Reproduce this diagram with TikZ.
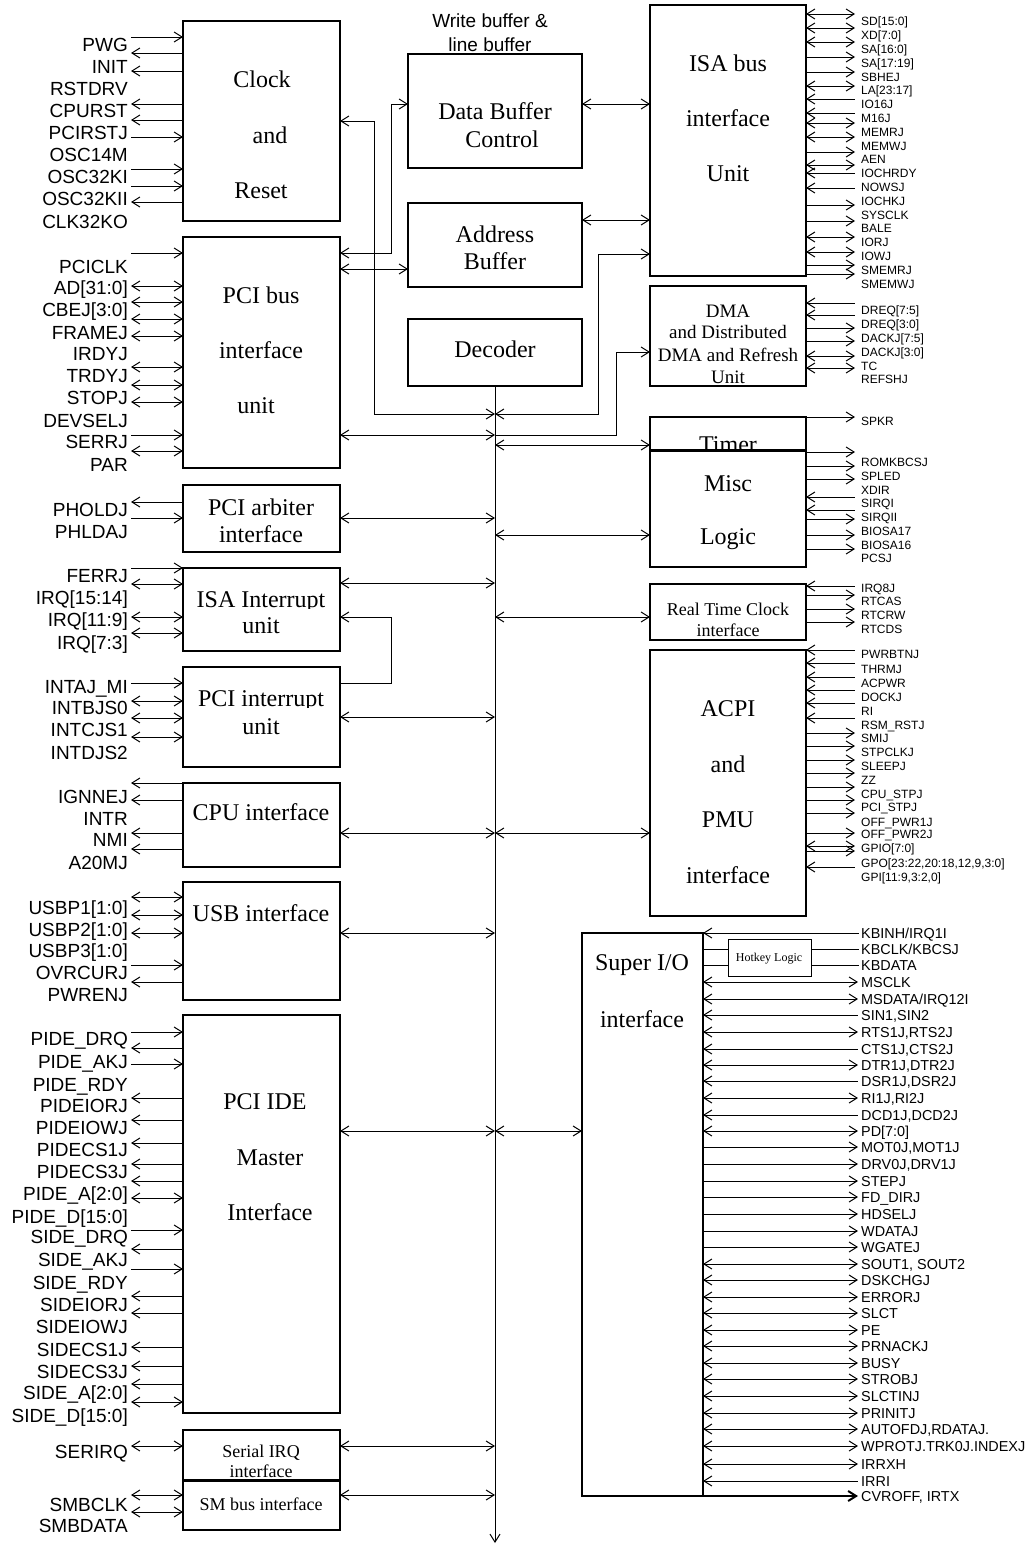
\documentclass[tikz,border=0pt]{standalone}
\usepackage{fontspec}
\setmainfont{Liberation Serif}
\newfontfamily\arialf{Liberation Sans}
\newfontfamily\timesf{Liberation Serif}
\usetikzlibrary{arrows.meta}
\newcommand\sigln[3]{\ifcase#1\relax\draw[sig](#2)--(#3);\or\draw[sig,->](#2)--(#3);\or\draw[sig,<-](#2)--(#3);\or\draw[sig,<->](#2)--(#3);\fi}
\tikzset{
 blk/.style={draw, line width=1.3pt, anchor=north west, inner sep=0pt, outer sep=0pt, fill=white},
 sig/.style={line width=1pt, >={Straight Barb[length=8pt,width=10pt]}},
 llab/.style={anchor=east, inner sep=0pt, font=\arialf\fontsize{19}{19}\selectfont, text height=13.6pt, text depth=0pt},
 clab/.style={inner sep=0pt, font=\arialf\fontsize{19}{19}\selectfont, text height=13.6pt, text depth=0pt},
 rlab/.style={anchor=west, inner sep=0pt, font=\arialf\fontsize{12}{12}\selectfont, text height=8.6pt, text depth=0pt},
 slab/.style={anchor=west, inner sep=0pt, font=\arialf\fontsize{14.4}{14.4}\selectfont, text height=10.3pt, text depth=0pt},
 ttl/.style={inner sep=0pt, font=\timesf\fontsize{24}{24}\selectfont, text height=15.9pt, text depth=0pt},
 ttm/.style={inner sep=0pt, font=\timesf\fontsize{19}{19}\selectfont, text height=12.6pt, text depth=0pt},
 tts/.style={inner sep=0pt, font=\timesf\fontsize{18}{18}\selectfont, text height=11.9pt, text depth=0pt},
 tty/.style={inner sep=0pt, font=\timesf\fontsize{12}{12}\selectfont, text height=8pt, text depth=0pt},
}
\begin{document}
\begin{tikzpicture}[x=1pt,y=-1pt]
\fill[white] (0,0) rectangle (1029,1545);
\useasboundingbox (0,0) rectangle (1029,1545);
% ---------------- blocks ----------------
\node[blk, minimum width=157pt, minimum height=200pt] (clk) at (183,21) {};
\node[blk, minimum width=157pt, minimum height=231pt] (pci) at (183,237) {};
\node[blk, minimum width=157pt, minimum height=67pt] (arb) at (183,485) {};
\node[blk, minimum width=157pt, minimum height=83pt] (isai) at (183,568) {};
\node[blk, minimum width=157pt, minimum height=100pt] (pcii) at (183,667) {};
\node[blk, minimum width=157pt, minimum height=84pt] (cpu) at (183,783) {};
\node[blk, minimum width=157pt, minimum height=118pt] (usb) at (183,882) {};
\node[blk, minimum width=157pt, minimum height=398pt] (ide) at (183,1015) {};
\node[blk, minimum width=157pt, minimum height=50pt] (sirq) at (183,1430) {};
\node[blk, minimum width=157pt, minimum height=49pt] (smb) at (183,1481) {};
\node[blk, minimum width=174pt, minimum height=114pt] (dbc) at (408,54) {};
\node[blk, minimum width=174pt, minimum height=84pt] (ab) at (408,203) {};
\node[blk, minimum width=174pt, minimum height=67pt] (dec) at (408,319) {};
\node[blk, minimum width=156pt, minimum height=271pt] (isa) at (650,5) {};
\node[blk, minimum width=156pt, minimum height=100pt] (dma) at (650,286) {};
\node[blk, minimum width=156pt, minimum height=33pt] (tmr) at (650,417) {};
\node[ttl] (tTimer) at (728,445) {Timer};
\node[blk, minimum width=156pt, minimum height=116pt] (misc) at (650,451) {};
\node[blk, minimum width=156pt, minimum height=56pt] (rtc) at (650,584) {};
\node[blk, minimum width=156pt, minimum height=266pt] (acpi) at (650,650) {};
\node[blk, minimum width=121pt, minimum height=563pt] (sio) at (582,933) {};
\node[blk, minimum width=83pt, minimum height=37pt, line width=1pt] (hk) at (728,939) {};
% ---------------- block texts ----------------
\node[ttl] (t1) at (262,80) {Clock};
\node[ttl] (t2) at (270,136) {and};
\node[ttl] (t3) at (261,191) {Reset};
\node[ttl] (t4) at (261,296) {PCI bus};
\node[ttl] (t5) at (261,351) {interface};
\node[ttl] (t6) at (256,406) {unit};
\node[ttl] (t7) at (261,508) {PCI arbiter};
\node[ttl] (t8) at (261,535) {interface};
\begin{scope}
\clip (183,560) rectangle (340,608.5);
\node[ttl] (t9) at (261,600) {ISA Interrupt};
\end{scope}
\node[ttl] (t10) at (261,626) {unit};
\begin{scope}
\clip (183,660) rectangle (340,707.5);
\node[ttl] (t11) at (261,699) {PCI interrupt};
\end{scope}
\node[ttl] (t12) at (261,727) {unit};
\node[ttl] (t13) at (261,813) {CPU interface};
\node[ttl] (t14) at (261,914) {USB interface};
\node[ttl] (t15) at (265,1102) {PCI IDE};
\node[ttl] (t16) at (270,1158) {Master};
\node[ttl] (t17) at (270,1213) {Interface};
\node[tts] (t18) at (261,1452) {Serial IRQ};
\node[tts] (t19) at (261,1472) {interface};
\node[tts] (t20) at (261,1505) {SM bus interface};
\node[clab] (t21) at (490,21) {Write buffer \&};
\node[clab] (t22) at (490,45) {line buffer};
\node[ttl] (t23) at (495,112) {Data Buffer};
\node[ttl] (t24) at (502,140) {Control};
\node[ttl] (t25) at (495,235) {Address};
\node[ttl] (t26) at (495,262) {Buffer};
\node[ttl] (t27) at (495,350) {Decoder};
\node[ttl] (t28) at (728,64) {ISA bus};
\node[ttl] (t29) at (728,119) {interface};
\node[ttl] (t30) at (728,174) {Unit};
\node[ttm] (t31) at (728,311) {DMA};
\node[ttm] (t32) at (728,332) {and Distributed};
\node[ttm] (t33) at (728,355) {DMA and Refresh};
\node[ttm] (t34) at (728,377) {Unit};
\node[ttl] (t35) at (728,484) {Misc};
\node[ttl] (t36) at (728,537) {Logic};
\node[tts] (t37) at (728,610) {Real Time Clock};
\node[tts] (t38) at (728,631) {interface};
\node[ttl] (t39) at (728,709) {ACPI};
\node[ttl] (t40) at (728,765) {and};
\node[ttl] (t41) at (728,820) {PMU};
\node[ttl] (t42) at (728,876) {interface};
\node[ttl] (t43) at (642,963) {Super I/O};
\node[ttl] (t44) at (642,1020) {interface};
\node[tty] (t45) at (769,957) {Hotkey Logic};
% ---------------- internal bus and connectors ----------------
\coordinate (busend) at (495,1543);
\draw[sig,->] (dec.south) -- (busend);
\draw[sig,<->] (clk.east |- 0,121) -| (374,414) -- (dec.south |- 0,414);
\draw[sig,<->] (dec.south |- 0,414) -| (598,254) -- (isa.west |- 0,254);
\draw[sig,<->] (pci.east |- 0,253) -| (391,104) -- (dbc.west |- 0,104);
\draw[sig,<->] (pci.east |- 0,269) -- (ab.west |- 0,269);
\draw[sig,<->] (dbc.east |- 0,104) -- (isa.west |- 0,104);
\draw[sig,<->] (ab.east |- 0,220) -- (isa.west |- 0,220);
\draw[sig,<->] (pci.east |- 0,435) -- (dec.south |- 0,435);
\draw[sig,->] (dec.south |- 0,435) -| (616,352) -- (dma.west |- 0,352);
\draw[sig,<->] (dec.south |- 0,445) -- (tmr.west |- 0,445);
\draw[sig,<->] (arb.east |- 0,518) -- (dec.south |- 0,518);
\draw[sig,<->] (dec.south |- 0,535) -- (misc.west |- 0,535);
\draw[sig,<->] (isai.east |- 0,583) -- (dec.south |- 0,583);
\draw[sig,<->] (dec.south |- 0,617) -- (rtc.west |- 0,617);
\draw[sig,->] (pcii.east |- 0,683) -| (391,617) -- (isai.east |- 0,617);
\draw[sig,<->] (pcii.east |- 0,717) -- (dec.south |- 0,717);
\draw[sig,<->] (cpu.east |- 0,833) -- (dec.south |- 0,833);
\draw[sig,<->] (dec.south |- 0,833) -- (acpi.west |- 0,833);
\draw[sig,<->] (usb.east |- 0,933) -- (dec.south |- 0,933);
\draw[sig,<->] (ide.east |- 0,1131) -- (dec.south |- 0,1131);
\draw[sig,<->] (dec.south |- 0,1131) -- (sio.west |- 0,1131);
\draw[sig,<->] (sirq.east |- 0,1446) -- (dec.south |- 0,1446);
\draw[sig,<->] (smb.east |- 0,1495) -- (dec.south |- 0,1495);
% ---------------- left signals ----------------
\foreach \y/\k in {37/1,53/2,71/2,104/2,120/2,137/1,169/1,186/1,202/2}{\sigln{\k}{131,\y}{clk.west |- 0,\y}}
\foreach \y/\k in {253/1,286/3,302/3,319/3,336/3,367/3,385/3,402/3,435/1,451/3}{\sigln{\k}{131,\y}{pci.west |- 0,\y}}
\foreach \y/\k in {502/2,518/1}{\sigln{\k}{131,\y}{arb.west |- 0,\y}}
\foreach \y/\k in {568/1,584/3,617/3,633/3}{\sigln{\k}{131,\y}{isai.west |- 0,\y}}
\foreach \y/\k in {683/1,701/3,718/3,737/3}{\sigln{\k}{131,\y}{pcii.west |- 0,\y}}
\foreach \y/\k in {783/2,800/2,833/2,849/2}{\sigln{\k}{131,\y}{cpu.west |- 0,\y}}
\foreach \y/\k in {897/3,915/3,933/3,965/1,982/2}{\sigln{\k}{131,\y}{usb.west |- 0,\y}}
\foreach \y/\k in {1032/1,1048/2,1064/1,1098/2,1120/2,1143/2,1164/2,1181/2,1198/3,1230/1,1249/2,1269/1,1296/2,1313/2,1347/2,1366/2,1384/2,1402/3}{\sigln{\k}{131,\y}{ide.west |- 0,\y}}
\foreach \y/\k in {1446/3}{\sigln{\k}{131,\y}{sirq.west |- 0,\y}}
\foreach \y/\k in {1495/3,1512/3}{\sigln{\k}{131,\y}{smb.west |- 0,\y}}
\foreach \y/\t [count=\i] in {45/PWG,67/INIT,89/RSTDRV,111/CPURST,133/PCIRSTJ,155/OSC14M,177/OSC32KI,199/OSC32KII,222/CLK32KO,
 267/PCICLK,288/{AD[31:0]},310/{CBEJ[3:0]},333/FRAMEJ,354/IRDYJ,376/TRDYJ,398/STOPJ,421/DEVSELJ,442/SERRJ,465/PAR,
 510/PHOLDJ,532/PHLDAJ,576/FERRJ,598/{IRQ[15:14]},620/{IRQ[11:9]},643/{IRQ[7:3]},
 687/INTAJ\_MI,708/INTBJS0,730/INTCJS1,753/INTDJS2,797/IGNNEJ,819/INTR,840/NMI,863/A20MJ,
 908/{USBP1[1:0]},930/{USBP2[1:0]},951/{USBP3[1:0]},973/OVRCURJ,995/PWRENJ,
 1039/PIDE\_DRQ,1062/PIDE\_AKJ,1085/PIDE\_RDY,1106/PIDEIORJ,1128/PIDEIOWJ,1150/PIDECS1J,1172/PIDECS3J,1194/{PIDE\_A[2:0]},1217/{PIDE\_D[15:0]},
 1237/SIDE\_DRQ,1260/SIDE\_AKJ,1283/SIDE\_RDY,1305/SIDEIORJ,1327/SIDEIOWJ,1350/SIDECS1J,1372/SIDECS3J,1393/{SIDE\_A[2:0]},1416/{SIDE\_D[15:0]},
 1452/SERIRQ,1505/SMBCLK,1526/SMBDATA}{\node[llab] (L\i) at (128,\y) {\t};}
% ---------------- right signals ----------------
\foreach \y/\k in {14/3,28/3,42/3,57/1,72/1,86/3,99/2,113/2,123/3,137/3,152/1,165/3,173/2,188/2,205/1,221/1,237/3,252/3,265/1,274/1}{\sigln{\k}{isa.east |- 0,\y}{855,\y}}
\foreach \t [count=\i from 0] in {{SD[15:0]},{XD[7:0]},{SA[16:0]},{SA[17:19]},SBHEJ,{LA[23:17]},IO16J,M16J,MEMRJ,MEMWJ,AEN,IOCHRDY,NOWSJ,IOCHKJ,SYSCLK,BALE,IORJ,IOWJ,SMEMRJ,SMEMWJ}{\node[rlab] (RI\i) at (861,{21.5+13.8*\i}) {\t};}
\foreach \y/\k in {303/2,315/2,328/1,341/1,356/3,368/3}{\sigln{\k}{dma.east |- 0,\y}{855,\y}}
\foreach \y/\k in {417/1}{\sigln{\k}{tmr.east |- 0,\y}{855,\y}}
\foreach \y/\k in {452/1,466/1,479/1,497/2,510/2,519/1,535/1,549/1}{\sigln{\k}{misc.east |- 0,\y}{855,\y}}
\foreach \y/\k in {586/2,595/1,609/1,622/1}{\sigln{\k}{rtc.east |- 0,\y}{855,\y}}
\foreach \y/\k in {650/2,663/2,677/2,690/2,703/2,718/2,733/1,746/1,760/1,773/1,787/1,800/1,813/1,833/1,846/3,851/1,867/2}{\sigln{\k}{acpi.east |- 0,\y}{855,\y}}
\foreach \y/\t [count=\i] in {310/{DREQ[7:5]},324/{DREQ[3:0]},338/{DACKJ[7:5]},352/{DACKJ[3:0]},366/TC,379/REFSHJ,421/SPKR,
 462/ROMKBCSJ,476/SPLED,490/XDIR,503/SIRQI,517/SIRQII,531/BIOSA17,545/BIOSA16,558/PCSJ,
 588/IRQ8J,601/RTCAS,615/RTCRW,629/RTCDS,
 654/PWRBTNJ,669/THRMJ,683/ACPWR,697/DOCKJ,711/RI,725/RSM\_RSTJ,738/SMIJ,752/STPCLKJ,766/SLEEPJ,780/ZZ,794/CPU\_STPJ,807/PCI\_STPJ,822/OFF\_PWR1J,834/OFF\_PWR2J,848/{GPIO[7:0]},863/{GPO[23:22,20:18,12,9,3:0]},877/{GPI[11:9,3:2,0]}}{\node[rlab] (RR\i) at (861,\y) {\t};}
% ---------------- super I/O signals ----------------
\draw[sig,<-] (sio.east |- 0,933) -- (859,933);
\draw[sig] (sio.east |- 0,949) -- (hk.west |- 0,949);
\draw[sig] (sio.east |- 0,965) -- (hk.west |- 0,965);
\draw[sig] (hk.east |- 0,949) -- (859,949);
\draw[sig] (hk.east |- 0,965) -- (859,965);
\foreach \y/\k in {982/3,999/3,1015/2,1032/3,1049/2,1065/3,1081/2,1098/3,1115/2,1131/3,1147/1,1164/1,1181/1,1197/1,1214/1,1231/1,1247/1,1264/3,1280/3,1297/3,1313/3,1330/3,1346/3,1363/3,1379/3,1396/3,1413/3,1429/3,1446/3,1464/3,1481/2}{\sigln{\k}{sio.east |- 0,\y}{858,\y}}
\draw[sig,line width=2pt,->] (sio.south east) -- (858,1496);
\foreach \y/\t [count=\i] in {933/{KBINH/IRQ1I},949/{KBCLK/KBCSJ},965/KBDATA,982/MSCLK,999/{MSDATA/IRQ12I},1015/{SIN1,SIN2},1032/{RTS1J,RTS2J},1049/{CTS1J,CTS2J},1065/{DTR1J,DTR2J},1081/{DSR1J,DSR2J},1098/{RI1J,RI2J},1115/{DCD1J,DCD2J},1131/{PD[7:0]},1147/{MOT0J,MOT1J},1164/{DRV0J,DRV1J},1181/STEPJ,
 1197/FD\_DIRJ,1214/HDSELJ,1231/WDATAJ,1247/WGATEJ,1264/{SOUT1, SOUT2},1280/DSKCHGJ,1297/ERRORJ,1313/SLCT,1330/PE,1346/PRNACKJ,1363/BUSY,1379/STROBJ,1396/SLCTINJ,1413/PRINITJ,1429/{AUTOFDJ,RDATAJ.},1446/WPROTJ.TRK0J.INDEXJ,1464/IRRXH,1481/IRRI,1496/{CVROFF, IRTX}}{\node[slab] (S\i) at (861,\y) {\t};}
\end{tikzpicture}
\end{document}
